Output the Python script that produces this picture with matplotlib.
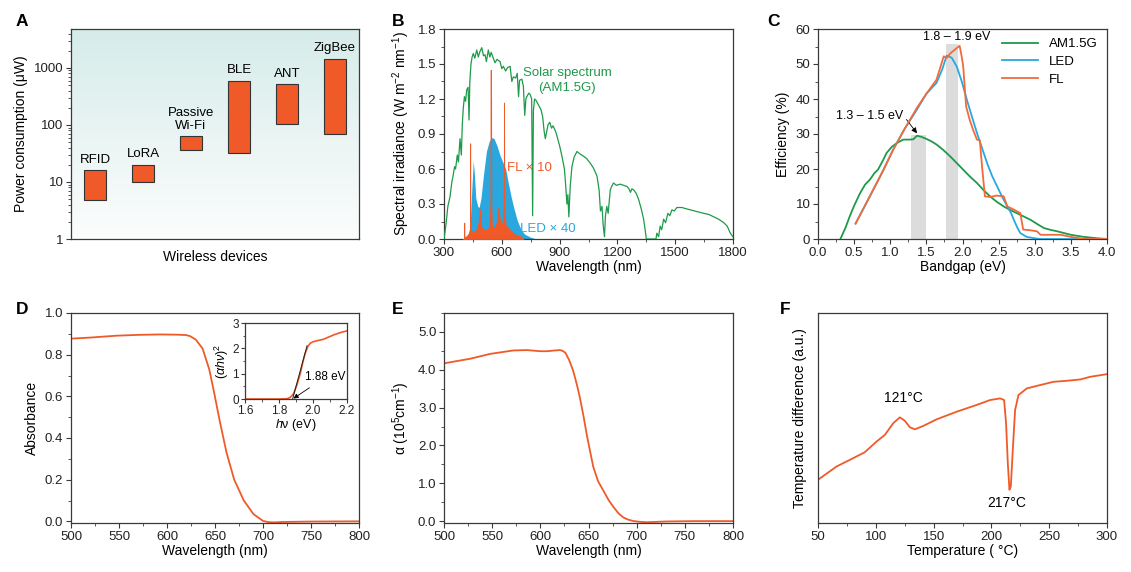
import matplotlib.pyplot as plt
import numpy as np
from matplotlib.ticker import MultipleLocator, LogLocator, NullFormatter

plt.rcParams['font.family'] = ['Liberation Sans', 'DejaVu Sans']
plt.rcParams['mathtext.fontset'] = 'custom'
plt.rcParams['mathtext.rm'] = 'Liberation Sans'
plt.rcParams['mathtext.it'] = 'Liberation Sans:italic'
plt.rcParams['font.size'] = 9
plt.rcParams['axes.edgecolor'] = '#3a3a3a'
plt.rcParams['axes.linewidth'] = 0.9
plt.rcParams['xtick.direction'] = 'out'
plt.rcParams['ytick.direction'] = 'out'
plt.rcParams['xtick.color'] = '#3a3a3a'
plt.rcParams['ytick.color'] = '#3a3a3a'
plt.rcParams['xtick.labelcolor'] = '#222222'
plt.rcParams['ytick.labelcolor'] = '#222222'

ORANGE = '#f05a28'
GREEN = '#1e9a4a'
BLUE = '#2aa7df'

# --- A: power consumption of wireless devices (uW)
devices = ['RFID', 'LoRA', 'Passive\nWi-Fi', 'BLE', 'ANT', 'ZigBee']
power_low = [4.8, 9.8, 36, 32, 105, 70]
power_high = [16, 20, 63, 600, 520, 1450]

# --- B: spectra
solar_wl = [300, 310, 320, 331, 340, 348, 355, 360, 369, 375, 383, 390, 395, 400, 406, 412,
            418, 425, 430, 434, 440, 446, 452, 460, 470, 478, 485, 496, 505, 513, 520, 530,
            538, 545, 556, 565, 575, 591, 600, 608, 620, 630, 643, 652, 660, 672, 680, 687,
            692, 704, 712, 719, 725, 730, 740, 747, 755, 760, 764, 770, 777, 790, 803, 812,
            820, 826, 832, 840, 849, 858, 866, 880, 892, 900, 912, 925, 932, 938, 943, 948,
            955, 964, 975, 990, 1005, 1024, 1040, 1059, 1075, 1094, 1105, 1112, 1120, 1126,
            1133, 1138, 1145, 1152, 1163, 1170, 1180, 1195, 1215, 1232, 1250, 1260, 1268,
            1275, 1285, 1298, 1310, 1325, 1336, 1344, 1350, 1360, 1380, 1400, 1405, 1414,
            1422, 1430, 1440, 1450, 1462, 1472, 1483, 1495, 1509, 1520, 1535, 1555, 1578,
            1600, 1625, 1648, 1675, 1700, 1725, 1752, 1770, 1786, 1800]
solar_irr = [0.0, 0.12, 0.28, 0.36, 0.48, 0.55, 0.62, 0.6, 0.72, 0.66, 0.86, 0.72, 0.98, 1.12,
             1.22, 1.18, 1.28, 1.3, 1.02, 1.35, 1.5, 1.56, 1.59, 1.55, 1.62, 1.56, 1.6, 1.64,
             1.57, 1.58, 1.52, 1.62, 1.56, 1.6, 1.55, 1.51, 1.54, 1.52, 1.46, 1.48, 1.44, 1.47,
             1.48, 1.35, 1.39, 1.38, 1.42, 1.22, 1.36, 1.37, 1.31, 1.06, 1.2, 1.22, 1.25, 1.24,
             1.2, 0.2, 1.1, 1.2, 1.19, 1.15, 1.11, 1.05, 0.92, 0.86, 0.91, 0.98, 1.0, 0.95,
             0.97, 0.92, 0.85, 0.8, 0.71, 0.6, 0.45, 0.3, 0.38, 0.19, 0.45, 0.62, 0.7, 0.75,
             0.73, 0.71, 0.69, 0.65, 0.61, 0.54, 0.42, 0.24, 0.28, 0.12, 0.02, 0.2, 0.28, 0.22,
             0.42, 0.45, 0.48, 0.46, 0.47, 0.46, 0.45, 0.43, 0.4, 0.43, 0.42, 0.39, 0.34, 0.25,
             0.17, 0.08, 0.0, 0.0, 0.0, 0.0, 0.05, 0.02, 0.11, 0.08, 0.17, 0.14, 0.22, 0.2, 0.25,
             0.24, 0.27, 0.27, 0.27, 0.26, 0.25, 0.24, 0.23, 0.22, 0.21, 0.19, 0.17, 0.14, 0.11,
             0.05, 0.02]

led_wl = [400, 420, 435, 445, 452, 458, 465, 475, 482, 492, 505, 520, 535, 550, 560, 575,
          590, 605, 620, 635, 650, 665, 680, 700, 720, 750, 780]
led_irr = [0.0, 0.01, 0.1, 0.45, 0.67, 0.55, 0.35, 0.28, 0.27, 0.35, 0.55, 0.75, 0.84, 0.87,
           0.86, 0.8, 0.72, 0.66, 0.6, 0.47, 0.35, 0.25, 0.16, 0.08, 0.04, 0.015, 0.0]

fl_wl = [400, 404, 405, 406, 420, 430, 434.5, 435.8, 437, 450, 470, 480, 487, 492, 500, 520,
         535, 541, 542.5, 543.5, 544.5, 545.5, 548, 560, 575, 582, 587, 595, 605, 610, 611.5,
         613, 620, 630, 650, 670, 700, 712]
fl_irr = [0.0, 0.0, 0.14, 0.01, 0.03, 0.05, 0.08, 0.82, 0.08, 0.06, 0.08, 0.15, 0.26, 0.12,
          0.08, 0.08, 0.1, 0.3, 1.45, 0.4, 1.18, 0.3, 0.12, 0.09, 0.15, 0.27, 0.2, 0.12, 0.15,
          0.3, 1.17, 0.25, 0.12, 0.1, 0.06, 0.04, 0.02, 0.0]

# --- C: efficiency vs bandgap
am_eg = [0.31, 0.38, 0.44, 0.5, 0.58, 0.65, 0.72, 0.78, 0.83, 0.9, 0.95, 1.02, 1.09, 1.18,
         1.27, 1.32, 1.37, 1.43, 1.5, 1.57, 1.64, 1.73, 1.83, 1.92, 2.01, 2.1, 2.2, 2.29, 2.38,
         2.47, 2.57, 2.66, 2.75, 2.85, 2.94, 3.04, 3.13, 3.22, 3.31, 3.5, 3.68, 3.87, 4.0]
am_eff = [0.0, 3.2, 6.5, 9.5, 13, 15.5, 17, 18.8, 19.8, 22.5, 24.6, 26.3, 27.4, 28.4, 28.4,
          28.5, 29.5, 29.2, 28.6, 27.9, 27, 25.5, 23.6, 21.7, 19.8, 17.9, 16, 14, 12.2, 10.7,
          9.3, 8.3, 7.4, 6.4, 5.5, 4.2, 3.1, 2.6, 2.2, 1.2, 0.6, 0.2, 0.0]

led_eg = [0.52, 0.7, 0.9, 1.04, 1.2, 1.37, 1.5, 1.64, 1.72, 1.78, 1.85, 1.92, 1.99, 2.06, 2.13,
          2.2, 2.27, 2.34, 2.41, 2.48, 2.55, 2.62, 2.67, 2.71, 2.76, 2.8, 2.89, 3.0, 3.08, 3.5,
          4.0]
led_eff = [4.4, 11.5, 19.5, 25.5, 31.5, 37, 41.5, 44.6, 48.5, 52.4, 51.8, 49.3, 45, 39.8, 35,
           30.3, 26, 21.7, 18, 15, 12, 9.3, 7.5, 5.5, 3.2, 1.7, 0.6, 0.2, 0.0, 0.0, 0.0]

fl_eg = [0.52, 0.7, 0.9, 1.04, 1.2, 1.37, 1.5, 1.64, 1.74, 1.78, 1.83, 1.9, 1.96, 1.99, 2.01,
         2.05, 2.1, 2.15, 2.2, 2.24, 2.27, 2.31, 2.38, 2.47, 2.57, 2.62, 2.71, 2.8, 2.84, 2.94,
         3.03, 3.08, 3.36, 3.5, 3.68, 4.0]
fl_eff = [4.4, 11.5, 19.5, 25.5, 31.5, 37.5, 41.5, 45.5, 52.2, 51.7, 53, 54.2, 55.2, 52, 49.3,
          37.9, 34, 31, 28.4, 28.2, 20.8, 12.2, 12, 12.4, 12.2, 9.3, 8.4, 7.4, 2.7, 2.5, 2.2,
          1.2, 1.2, 0.6, 0.0, 0.0]

band_low = [1.29, 1.77]
band_high = [1.50, 1.94]
band_top = [29.8, 55.7]

# --- D: absorbance
abs_wl = [500, 520, 547, 570, 593, 610, 620, 624, 630, 637, 644, 649, 655, 662, 670, 680, 690,
          700, 706, 712, 721, 750, 800]
absorb = [0.877, 0.882, 0.891, 0.895, 0.897, 0.896, 0.894, 0.889, 0.872, 0.83, 0.73, 0.62,
          0.48, 0.33, 0.2, 0.1, 0.035, 0.002, -0.004, -0.005, -0.003, -0.001, 0.0]

# inset: Tauc plot
tauc_e = [1.6, 1.7, 1.8, 1.846, 1.865, 1.885, 1.905, 1.925, 1.94, 1.954, 1.97, 1.984, 2.0,
          2.023, 2.045, 2.063, 2.09, 2.122, 2.16, 2.2]
tauc_y = [0.0, 0.0, 0.0, 0.01, 0.06, 0.2, 0.55, 1.0, 1.45, 1.8, 2.08, 2.2, 2.26, 2.3, 2.33,
          2.36, 2.44, 2.53, 2.62, 2.69]
fit_e = [1.88, 1.965]
fit_y = [0.0, 2.1]

# --- E: absorption coefficient (1e5 cm^-1)
alpha_wl = [500, 527, 548, 572, 586, 600, 607, 615, 620.5, 623, 626, 630, 634, 638, 641, 645,
            648, 652, 655, 660, 666, 671, 676, 681, 686, 691, 697, 704, 711, 730, 760, 800]
alpha_val = [4.17, 4.29, 4.42, 4.51, 4.52, 4.49, 4.49, 4.51, 4.52, 4.5, 4.45, 4.25, 3.98,
             3.6, 3.27, 2.75, 2.31, 1.8, 1.43, 1.05, 0.78, 0.55, 0.37, 0.21, 0.1, 0.04, 0.0,
             -0.02, -0.03, -0.01, 0.0, 0.0]

# --- F: DSC (arbitrary units)
dsc_t = [50, 58, 66, 77.5, 90.5, 100.6, 107.8, 115, 120.8, 125, 129.5, 133.8, 141, 152.6,
         170, 187, 198.8, 207.5, 211, 212.7, 214.2, 215.6, 216.8, 218.5, 220.5, 223.4, 230.6,
         242, 253.8, 265, 277, 285.5, 300]
dsc_v = [130, 150, 170, 190, 213, 245, 265, 300, 318, 308, 288, 282, 292, 312, 335, 355, 370,
         375, 370, 300, 180, 100, 110, 220, 340, 385, 405, 415, 425, 428, 432, 440, 448]

W, H = 1131, 572
fig = plt.figure(figsize=(W / 100, H / 100), dpi=100)


def rect(x0, y0, x1, y1):
    return [x0 / W, 1 - y1 / H, (x1 - x0) / W, (y1 - y0) / H]


def letter(px, py, s):
    fig.text(px / W, 1 - py / H, s, fontsize=12.5, fontweight='bold', ha='left', va='center')


# ---------- A
axA = fig.add_axes(rect(71, 29, 359, 239))
axA.set_yscale('log')
axA.set_ylim(1, 4800)
axA.set_xlim(0, 6)
grad = np.linspace(0, 1, 256).reshape(-1, 1)
top_c = np.array([214, 236, 234]) / 255
bot_c = np.array([252, 253, 253]) / 255
img = top_c * (1 - grad[..., None]) + bot_c * grad[..., None]
axA.imshow(img, extent=[0, 1, 0, 1], transform=axA.transAxes, aspect='auto', zorder=0)
for i, (lo, hi, name) in enumerate(zip(power_low, power_high, devices)):
    axA.bar(i + 0.5, hi - lo, bottom=lo, width=0.45, color=ORANGE, edgecolor='#333333',
            linewidth=0.8, zorder=2)
    axA.text(i + 0.5, hi * 1.2, name, ha='center', va='bottom', fontsize=9.5, linespacing=1.1)
axA.set_xticks([])
axA.set_yticks([1, 10, 100, 1000])
axA.set_yticklabels(['1', '10', '100', '1000'])
axA.yaxis.set_minor_locator(LogLocator(base=10, subs=np.arange(2, 10)))
axA.yaxis.set_minor_formatter(NullFormatter())
axA.set_xlabel('Wireless devices', fontsize=10, labelpad=8)
axA.set_ylabel('Power consumption (μW)', fontsize=10)
letter(16, 21, 'A')

# ---------- B
axB = fig.add_axes(rect(444, 29, 733, 239))
axB.fill_between(led_wl, led_irr, color=BLUE, lw=0, zorder=2)
axB.fill_between(fl_wl, fl_irr, color=ORANGE, lw=0.6, edgecolor=ORANGE, zorder=3)
axB.plot(solar_wl, solar_irr, color=GREEN, lw=0.9, zorder=4)
axB.set_xlim(300, 1800)
axB.set_ylim(0, 1.8)
axB.xaxis.set_major_locator(MultipleLocator(300))
axB.xaxis.set_minor_locator(MultipleLocator(150))
axB.yaxis.set_major_locator(MultipleLocator(0.3))
axB.yaxis.set_minor_locator(MultipleLocator(0.15))
axB.yaxis.set_major_formatter(lambda v, p: f'{v:.1f}')
axB.text(940, 1.36, 'Solar spectrum\n(AM1.5G)', color=GREEN, ha='center', va='center',
         fontsize=9.5, linespacing=1.3)
axB.text(741, 0.61, 'FL × 10', color=ORANGE, ha='center', va='center', fontsize=9.5)
axB.text(840, 0.086, 'LED × 40', color=BLUE, ha='center', va='center', fontsize=9.5)
axB.set_xlabel('Wavelength (nm)', fontsize=10, labelpad=1)
axB.set_ylabel('Spectral irradiance (W m$^{-2}$ nm$^{-1}$)', fontsize=10)
letter(392, 22, 'B')

# ---------- C
axC = fig.add_axes(rect(818, 29, 1107, 239))
for lo, hi, tp in zip(band_low, band_high, band_top):
    axC.fill_between([lo, hi], [tp, tp], color='#dcdcdc', lw=0, zorder=1)
axC.plot(am_eg, am_eff, color=GREEN, lw=1.3, label='AM1.5G', zorder=3)
axC.plot(led_eg, led_eff, color=BLUE, lw=1.3, label='LED', zorder=3)
axC.plot(fl_eg, fl_eff, color='#f26a3a', lw=1.3, label='FL', zorder=4)
axC.set_xlim(0, 4)
axC.set_ylim(0, 60)
axC.xaxis.set_major_locator(MultipleLocator(0.5))
axC.xaxis.set_minor_locator(MultipleLocator(0.25))
axC.yaxis.set_major_locator(MultipleLocator(10))
axC.yaxis.set_minor_locator(MultipleLocator(5))
axC.xaxis.set_major_formatter(lambda v, p: f'{v:.1f}')
axC.text(1.92, 57.8, '1.8 – 1.9 eV', ha='center', va='center', fontsize=9)
axC.annotate('1.3 – 1.5 eV', xy=(1.37, 30.2), xytext=(0.72, 35.2), ha='center', va='center',
             fontsize=9,
             arrowprops=dict(arrowstyle='-|>', color='black', lw=0.6, mutation_scale=8,
                             shrinkA=0, shrinkB=0, relpos=(1.0, 0.5)))
axC.legend(loc='upper right', frameon=False, fontsize=9.5, handlelength=2.8,
           borderaxespad=0.3, labelspacing=0.4)
axC.set_xlabel('Bandgap (eV)', fontsize=10, labelpad=1)
axC.set_ylabel('Efficiency (%)', fontsize=10)
letter(767, 22, 'C')

# ---------- D
axD = fig.add_axes(rect(71, 313, 359, 523))
axD.plot(abs_wl, absorb, color=ORANGE, lw=1.3)
axD.set_xlim(500, 800)
axD.set_ylim(-0.008, 1.0)
axD.xaxis.set_major_locator(MultipleLocator(50))
axD.xaxis.set_minor_locator(MultipleLocator(25))
axD.yaxis.set_major_locator(MultipleLocator(0.2))
axD.yaxis.set_minor_locator(MultipleLocator(0.1))
axD.yaxis.set_major_formatter(lambda v, p: f'{v:.1f}')
axD.set_xlabel('Wavelength (nm)', fontsize=10, labelpad=1)
axD.set_ylabel('Absorbance', fontsize=10)
letter(16, 310, 'D')

axI = fig.add_axes(rect(245, 323, 347, 399))
axI.plot(tauc_e, tauc_y, color=ORANGE, lw=1.2)
axI.plot(fit_e, fit_y, color='#222222', lw=0.7)
axI.set_xlim(1.6, 2.2)
axI.set_ylim(0, 3)
axI.set_xticks([1.6, 1.8, 2.0, 2.2])
axI.set_yticks([0, 1, 2, 3])
axI.xaxis.set_major_formatter(lambda v, p: f'{v:.1f}')
axI.xaxis.set_minor_locator(MultipleLocator(0.1))
axI.yaxis.set_minor_locator(MultipleLocator(0.5))
axI.annotate('1.88 eV', xy=(1.885, 0.02), xytext=(2.07, 0.85), ha='center', va='center',
             fontsize=8.5,
             arrowprops=dict(arrowstyle='-|>', color='black', lw=0.6, mutation_scale=7,
                             shrinkA=2, shrinkB=0))
axI.set_xlabel(r'$h$ν (eV)', fontsize=9, labelpad=0)
axI.set_ylabel(r'$(\alpha h\nu)^2$', fontsize=9, labelpad=1)

# ---------- E
axE = fig.add_axes(rect(444, 313, 733, 523))
axE.plot(alpha_wl, alpha_val, color=ORANGE, lw=1.3)
axE.set_xlim(500, 800)
axE.set_ylim(-0.05, 5.5)
axE.xaxis.set_major_locator(MultipleLocator(50))
axE.xaxis.set_minor_locator(MultipleLocator(25))
axE.yaxis.set_major_locator(MultipleLocator(1))
axE.yaxis.set_minor_locator(MultipleLocator(0.5))
axE.yaxis.set_major_formatter(lambda v, p: f'{v:.1f}')
axE.set_xlabel('Wavelength (nm)', fontsize=10, labelpad=1)
axE.set_ylabel('α (10$^{5}$cm$^{-1}$)', fontsize=10)
letter(392, 309, 'E')

# ---------- F
axF = fig.add_axes(rect(818, 313, 1107, 523))
axF.plot(dsc_t, dsc_v, color=ORANGE, lw=1.3)
axF.set_xlim(50, 300)
axF.set_ylim(0, 632)
axF.xaxis.set_major_locator(MultipleLocator(50))
axF.xaxis.set_minor_locator(MultipleLocator(25))
axF.set_yticks([])
axF.text(124, 355, '121°C', ha='center', va='bottom', fontsize=10)
axF.text(213, 60, '217°C', ha='center', va='center', fontsize=10)
axF.set_xlabel('Temperature ( °C)', fontsize=10, labelpad=1)
axF.set_ylabel('Temperature difference (a.u.)', fontsize=10, labelpad=8)
letter(780, 309, 'F')

for ax in [axA, axB, axC, axD, axE, axF]:
    ax.tick_params(labelsize=9.5, length=3.5, width=0.8, pad=2)
    ax.tick_params(which='minor', length=2, width=0.6)
axI.tick_params(labelsize=8.5, length=3, pad=1.5)
axI.tick_params(which='minor', length=1.8)

fig.savefig('out.png', dpi=100, facecolor='white')
